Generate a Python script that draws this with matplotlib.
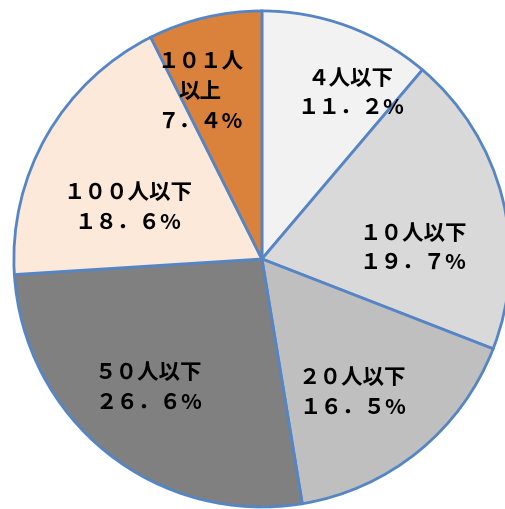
import matplotlib
matplotlib.use('Agg')
import matplotlib.pyplot as plt
import numpy as np

plt.rcParams['font.family'] = ['Noto Sans CJK JP', 'DejaVu Sans']

labels = ['４人以下', '１０人以下', '２０人以下', '５０人以下', '１００人以下', '１０１人\n以上']
values = [11.2, 19.7, 16.5, 26.6, 18.6, 7.4]
pct_text = ['１１．２%', '１９．７%', '１６．５%', '２６．６%', '１８．６%', '７．４%']
colors = ['#f2f2f2', '#d9d9d9', '#bfbfbf', '#808080', '#fde9d9', '#da823c']

# label placement tweaks (radius fraction, angle offset in degrees)
lab_r = [0.76, 0.61, 0.65, 0.69, 0.58, 0.72]
lab_da = [-8, -10, -5, -3, 9, 7]

fig = plt.figure(figsize=(5.05, 5.09), dpi=100)
ax = fig.add_axes([0, 0, 1, 1])
wedges, _ = ax.pie(values, colors=colors, startangle=90, counterclock=False,
                   wedgeprops=dict(edgecolor='#5585c5', linewidth=2))
ax.set_aspect('equal')
ax.set_xlim(-1.056, 0.980)
ax.set_ylim(-1.008, 1.044)

for w, lab, pt, r, da in zip(wedges, labels, pct_text, lab_r, lab_da):
    ang = np.deg2rad((w.theta1 + w.theta2) / 2 + da)
    x, y = r * np.cos(ang), r * np.sin(ang)
    ax.text(x, y, lab + '\n' + pt, ha='center', va='center', fontsize=15.5,
            fontweight='bold', linespacing=1.5)

fig.savefig('out.png', dpi=100)
